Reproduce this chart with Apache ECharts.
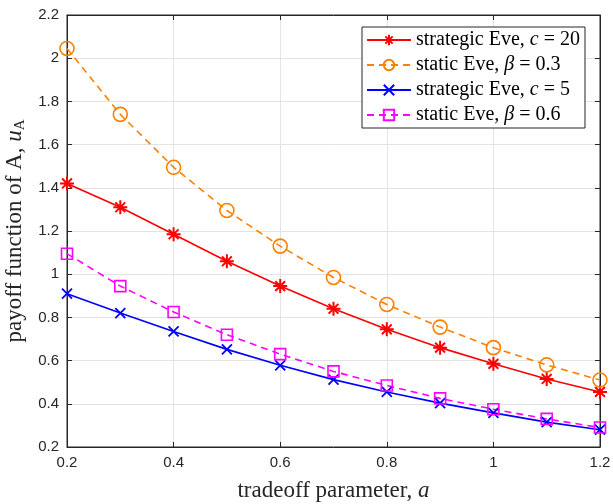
<!DOCTYPE html>
<html>
<head>
<meta charset="utf-8">
<script src="https://cdn.jsdelivr.net/npm/echarts@6/dist/echarts.min.js"></script>
<style>
html, body { margin: 0; padding: 0; background: #fff; }
#chart { width: 613px; height: 504px; }
</style>
</head>
<body>
<div id="chart"></div>
<script>
// tradeoff parameter a
var aValues = [0.2, 0.3, 0.4, 0.5, 0.6, 0.7, 0.8, 0.9, 1.0, 1.1, 1.2];
// payoff of A for each curve
var strategicC20 = [1.42, 1.31, 1.185, 1.06, 0.945, 0.84, 0.745, 0.66, 0.585, 0.515, 0.455];
var staticB03 = [2.045, 1.74, 1.495, 1.295, 1.13, 0.985, 0.86, 0.755, 0.66, 0.58, 0.51];
var strategicC5 = [0.91, 0.82, 0.735, 0.652, 0.578, 0.512, 0.455, 0.403, 0.358, 0.315, 0.28];
var staticB06 = [1.095, 0.945, 0.825, 0.72, 0.63, 0.55, 0.485, 0.425, 0.375, 0.33, 0.29];
var xTicks = [0.2, 0.4, 0.6, 0.8, 1, 1.2];
var yTicks = [0.2, 0.4, 0.6, 0.8, 1, 1.2, 1.4, 1.6, 1.8, 2, 2.2];

function pairs(ys) {
    return aValues.map(function (a, i) { return [a, ys[i]]; });
}

var serif = 'Liberation Serif';
var sans = 'Liberation Sans';
var starPath = 'path://M0,-10L0,10M-10,0L10,0M-7,-7L7,7M-7,7L7,-7';
var crossPath = 'path://M-10,-10L10,10M-10,10L10,-10';

var chart = echarts.init(document.getElementById('chart'));

function mkSeries(name, ys, color, dashed, symbol, size, bw) {
    return {
        name: name,
        type: 'line',
        data: pairs(ys),
        symbol: symbol,
        symbolSize: size,
        showAllSymbol: true,
        lineStyle: { color: color, width: 1.6, type: dashed ? [7, 5] : 'solid' },
        itemStyle: { color: 'rgba(255,255,255,0)', borderColor: color, borderWidth: bw },
        emphasis: { disabled: true },
        z: 3
    };
}

var legendRich = {
    i: { fontFamily: serif, fontStyle: 'italic', fontSize: 20, color: '#000' }
};
var tickFmt = function (v) { return String(Math.round(v * 10) / 10); };
var titleStyle = {
    fontFamily: serif, fontSize: 23, color: '#262626',
    rich: {
        i: { fontFamily: serif, fontStyle: 'italic', fontSize: 23, color: '#262626' },
        s: { fontFamily: serif, fontSize: 15, color: '#262626', verticalAlign: 'bottom', padding: [10, 0, 0, 0] }
    }
};

chart.setOption({
    animation: false,
    grid: { left: 67, top: 15, right: 13, bottom: 57, outerBoundsMode: 'none', containLabel: false,
        show: true, borderColor: '#262626', borderWidth: 1, backgroundColor: '#fff' },
    legend: {
        orient: 'vertical',
        left: 362,
        top: 27,
        itemWidth: 44,
        itemHeight: 13,
        itemGap: 5,
        padding: [3, 5, 3, 4],
        backgroundColor: '#fff',
        borderColor: '#262626',
        borderWidth: 1,
        textStyle: { fontFamily: serif, fontSize: 20, color: '#000', rich: legendRich },
        formatter: function (name) {
            if (name === 's1') return 'strategic Eve, {i|c} = 20';
            if (name === 's2') return 'static Eve, {i|β} = 0.3';
            if (name === 's3') return 'strategic Eve, {i|c} = 5';
            return 'static Eve, {i|β} = 0.6';
        },
        data: ['s1', 's2', 's3', 's4']
    },
    xAxis: [{
        type: 'value',
        min: 0.2, max: 1.2, interval: 0.2,
        name: 'tradeoff parameter, {i|a}',
        nameLocation: 'middle',
        nameGap: 32,
        nameTextStyle: titleStyle,
        axisLine: { show: true, lineStyle: { color: '#262626' } },
        axisTick: { inside: true, length: 5, lineStyle: { color: '#262626' } },
        axisLabel: { fontFamily: sans, fontSize: 15, color: '#262626', margin: 8, formatter: tickFmt },
        splitLine: { show: true, lineStyle: { color: '#e3e3e3' } }
    }, {
        type: 'value', position: 'top',
        min: 0.2, max: 1.2, interval: 0.2,
        axisLine: { show: true, lineStyle: { color: '#262626' } },
        axisTick: { inside: true, length: 5, lineStyle: { color: '#262626' } },
        axisLabel: { show: false }, splitLine: { show: false }
    }],
    yAxis: [{
        type: 'value',
        min: 0.2, max: 2.2, interval: 0.2,
        name: 'payoff function of A, {i|u}{s|A}',
        nameLocation: 'middle',
        nameGap: 35,
        nameTextStyle: titleStyle,
        axisLine: { show: true, lineStyle: { color: '#262626' } },
        axisTick: { inside: true, length: 5, lineStyle: { color: '#262626' } },
        axisLabel: { fontFamily: sans, fontSize: 15, color: '#262626', margin: 8, formatter: tickFmt },
        splitLine: { show: true, lineStyle: { color: '#e3e3e3' } }
    }, {
        type: 'value', position: 'right',
        min: 0.2, max: 2.2, interval: 0.2,
        axisLine: { show: true, lineStyle: { color: '#262626' } },
        axisTick: { inside: true, length: 5, lineStyle: { color: '#262626' } },
        axisLabel: { show: false }, splitLine: { show: false }
    }],
    series: [
        mkSeries('s1', strategicC20, '#ff0000', false, starPath, 14, 2),
        mkSeries('s2', staticB03, '#ff8000', true, 'circle', 14, 1.6),
        mkSeries('s3', strategicC5, '#0000ff', false, crossPath, 10, 1.8),
        mkSeries('s4', staticB06, '#ff00ff', true, 'rect', 11, 1.6)
    ]
});
</script>
</body>
</html>
